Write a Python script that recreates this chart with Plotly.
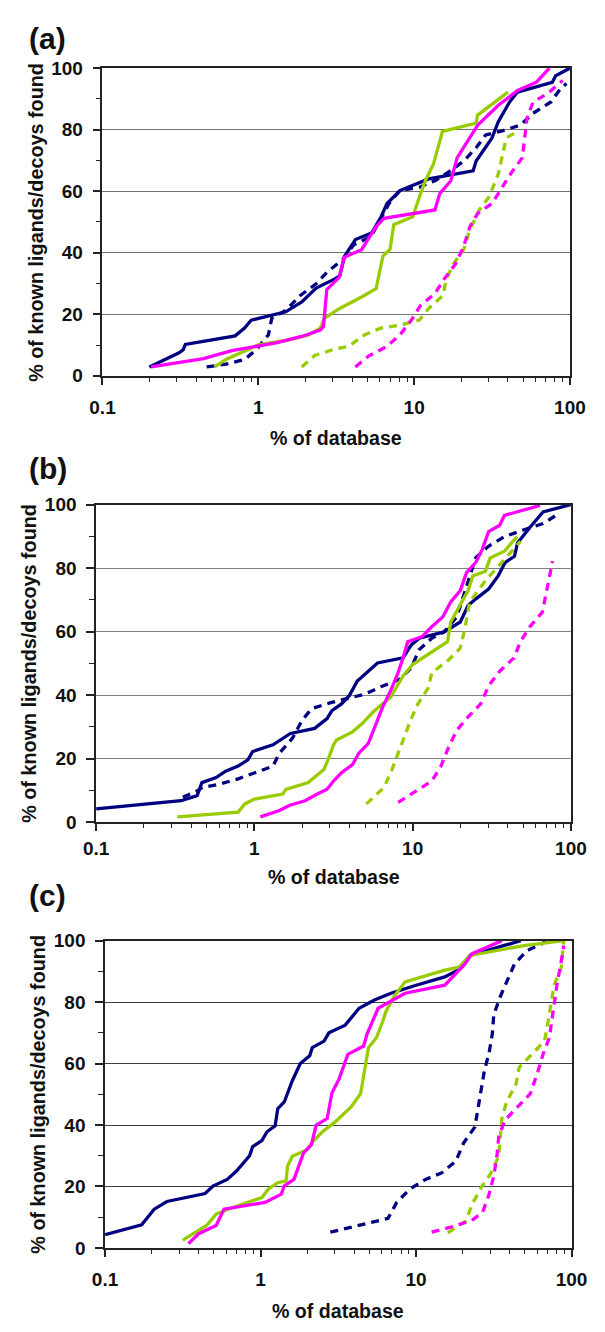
import plotly.graph_objects as go

W, H = 605, 1332

# ---------------- data (x = % of database, y = % found) ----------------
# Panel (a)
a_navy_x = [0.2, 0.31, 0.33, 0.34, 0.71, 0.816, 0.9, 1.19, 1.5, 1.9, 2.35, 3.1, 3.33, 3.58, 4.2, 5.33, 6.14, 6.7, 8.1, 12.4, 23.9, 25, 31.6, 34.7, 41, 46, 77, 81, 95, 100]
a_navy_y = [2.9, 7.5, 8.5, 10.2, 13, 15.5, 18.1, 19.7, 20.8, 24, 28.5, 31.5, 32.5, 38.9, 44.3, 46.4, 51.7, 56, 60.2, 64, 66.6, 69.8, 77.3, 82.6, 89, 92.2, 95.4, 97.5, 99.5, 100]
a_navyd_x = [0.466, 0.62, 0.816, 0.97, 1.16, 1.22, 1.5, 1.86, 2.35, 2.75, 3.5, 4.1, 5.3, 6.0, 6.9, 8.1, 10.8, 13.6, 16.5, 20.8, 25, 28.8, 36.7, 48.2, 58, 75.5, 87, 95]
a_navyd_y = [2.9, 3.8, 5.3, 8.5, 13.3, 18.7, 21.3, 26.1, 29.9, 33.6, 37.9, 42.6, 45.3, 50.1, 56, 60.2, 61.3, 63.4, 66.1, 69.8, 74.1, 78.3, 79.6, 81.5, 85.3, 89, 93.3, 95]
a_grn_x = [0.524, 0.62, 1.0, 1.57, 2.1, 2.5, 2.65, 3.33, 4.6, 5.7, 6.3, 7.0, 7.4, 9.8, 10.8, 11.8, 13.3, 15.2, 25, 25.5, 30, 40]
a_grn_y = [2.9, 5.3, 10.1, 11.7, 13.3, 15.5, 18.7, 21.9, 25.6, 28.3, 38.9, 41.1, 49.1, 51.7, 58.1, 63.4, 68.8, 79.4, 82.1, 84.7, 87.4, 92.2]
a_grnd_x = [1.9, 2.3, 3.0, 3.8, 4.8, 6.1, 8.1, 10.8, 12.4, 15.3, 16.1, 18.1, 20.8, 22.8, 26.2, 30.2, 34.7, 37.3, 39, 46]
a_grnd_y = [2.9, 6.6, 8.5, 9.6, 13.3, 15.5, 16.5, 18.1, 21.9, 26.1, 31.5, 36.8, 41.1, 47.5, 53.9, 58.1, 65.6, 73, 77.3, 79.4]
a_mag_x = [0.205, 0.445, 0.676, 1.0, 1.3, 1.9, 2.5, 2.62, 2.75, 3.3, 3.55, 4.6, 5.7, 6.4, 9.8, 13.6, 14.6, 17.2, 18.9, 25.6, 34.7, 46.1, 61, 73.8]
a_mag_y = [2.9, 5.6, 8.2, 9.6, 10.7, 12.8, 14.9, 16, 28, 32, 38.5, 41, 48.5, 51.2, 52.8, 53.9, 59.2, 63.4, 70.9, 81.5, 87.9, 92.7, 95.4, 100]
a_magd_x = [4.2, 5.1, 6.7, 8.1, 9.6, 11.0, 13.6, 15.6, 18.4, 20.8, 22.8, 25.6, 31.6, 36.7, 42.2, 49.5, 50.7, 53, 58, 72, 85, 90]
a_magd_y = [2.9, 6.4, 9.6, 13.3, 18.1, 22.9, 26.7, 31.5, 36.3, 42.1, 48.5, 52.8, 56, 61.3, 66.1, 70.9, 76.2, 83.7, 89, 91.7, 94.9, 96]

# Panel (b)
b_navy_x = [0.1, 0.344, 0.435, 0.466, 0.573, 0.658, 0.79, 0.91, 0.975, 1.31, 1.69, 2.4, 2.88, 3.09, 3.55, 3.98, 4.47, 5.25, 6.0, 8.7, 9.8, 11, 15.8, 20, 22.4, 25.1, 30.2, 34.7, 38.3, 44, 46, 55.5, 66.7, 100]
b_navy_y = [4.1, 6.7, 8.3, 12.4, 14, 16, 17.6, 19.6, 22.2, 24.3, 27.9, 29.5, 32.6, 35.1, 37.2, 39.8, 44.4, 47.5, 50.1, 51.7, 55.8, 57.9, 59.9, 63, 68.2, 70.3, 73.4, 77.5, 81.7, 83.7, 87.9, 93, 97.7, 100]
b_navyd_x = [0.353, 0.435, 0.47, 0.6, 0.79, 1.0, 1.31, 1.44, 1.74, 2.0, 2.3, 3.0, 5.0, 6.3, 8.3, 9.8, 11, 13.2, 15.8, 19, 21, 23, 25, 30, 38, 50, 66.7, 84]
b_navyd_y = [7.8, 9.8, 10.9, 11.9, 13.6, 15.5, 17.6, 21.7, 26.4, 32, 35.7, 37.5, 40.3, 42.6, 45, 48.6, 54.3, 57.9, 59.9, 64.6, 71.3, 77.5, 83.2, 86.8, 89.9, 92, 94, 97.2]
b_grn_x = [0.326, 0.79, 0.87, 1.0, 1.51, 1.58, 2.19, 2.75, 2.95, 3.16, 3.3, 4.17, 4.8, 5.75, 7.25, 8.7, 10, 13.2, 16.6, 17.4, 20, 22.4, 24, 28.8, 30.9, 38, 45.7]
b_grn_y = [1.6, 3.1, 5.7, 7.2, 8.8, 10.3, 12.4, 16.5, 20.2, 24.3, 25.8, 28.4, 31, 35.1, 39.3, 46, 49.6, 53.7, 56.8, 63, 68.2, 72.9, 77.5, 79, 83.2, 85.3, 89.9]
b_grnd_x = [5.1, 6.6, 7.4, 7.95, 8.7, 9.8, 10.8, 12.6, 13.2, 17, 20, 21.4, 22.9, 28.8, 48]
b_grnd_y = [5.7, 10.9, 16.5, 20.7, 25.8, 32.6, 37.2, 42.4, 47, 51.2, 54.8, 61, 69.3, 76, 88.4]
b_mag_x = [1.09, 1.44, 1.66, 2.09, 2.5, 2.88, 3.16, 3.55, 4.17, 4.57, 5.25, 5.75, 6.46, 7.25, 7.95, 8.7, 9.3, 11.5, 13.2, 15.5, 17.4, 20, 21.9, 25, 27.5, 30.2, 35.5, 38, 63.7]
b_mag_y = [1.6, 3.6, 5.2, 6.7, 8.8, 10.3, 12.9, 15.5, 18.1, 21.7, 24.8, 30, 36.2, 41.3, 46, 51.7, 56.8, 58.4, 61.5, 64.6, 69.3, 72.9, 78.6, 81.7, 85.8, 91.5, 93.5, 96.6, 99.7]
b_magd_x = [8.1, 10.5, 13.2, 15.1, 16.6, 19, 22.4, 26.9, 30.2, 35.5, 43.7, 47.9, 55, 66, 69.8, 76.6]
b_magd_y = [6.2, 9.8, 12.9, 17.6, 22.7, 28.9, 33.1, 37.2, 42.9, 47.5, 51.7, 56.8, 61.5, 66.1, 72.4, 82.2]

# Panel (c)
c_navy_x = [0.1, 0.172, 0.207, 0.25, 0.44, 0.494, 0.61, 0.70, 0.85, 0.89, 1.02, 1.1, 1.24, 1.29, 1.42, 1.6, 1.8, 2.07, 2.15, 2.56, 2.75, 3.5, 4.3, 5.4, 6.9, 10, 15.3, 19.3, 22.2, 30.9, 47.2]
c_navy_y = [4.3, 7.5, 12.6, 15.1, 17.7, 20.1, 22.3, 25, 30, 33, 34.9, 37.8, 39.7, 45.3, 47.5, 54.4, 60, 62.5, 65.2, 67.3, 70, 72.5, 78, 80.7, 82.9, 85.5, 88.2, 90.9, 95.2, 97.3, 100]
c_navyd_x = [2.81, 3.9, 4.9, 6.6, 7.5, 9.1, 11.5, 14.6, 18, 20.2, 23.9, 25, 26.2, 27.5, 29.5, 30.9, 31.6, 34.8, 43, 51.8, 68.7]
c_navyd_y = [5.1, 6.8, 8.1, 9.6, 14.8, 19.1, 22.3, 24.4, 28.2, 34.1, 39.4, 45.3, 51.2, 57.7, 63.6, 69.5, 75.9, 81.8, 92.5, 96.8, 99.7]
c_grn_x = [0.316, 0.45, 0.518, 0.67, 1.02, 1.12, 1.29, 1.46, 1.49, 1.6, 1.98, 2.17, 2.5, 3.02, 3.82, 4.4, 4.94, 5.56, 6.1, 6.4, 7.2, 8.5, 15.3, 18.9, 22.2, 49.4, 89]
c_grn_y = [2.5, 7.3, 11, 13.2, 16.4, 19.1, 21.2, 21.8, 26.6, 29.8, 31.9, 34.6, 37.8, 41, 45.9, 50.2, 65.2, 68.4, 73.7, 77, 81.8, 86.6, 90.4, 91.4, 95.2, 98.4, 100]
c_grnd_x = [16, 20.7, 23.3, 26.2, 30, 34, 35.6, 38.2, 44, 46, 56.9, 67, 70.3, 73.6, 77.2, 86, 89]
c_grnd_y = [4.9, 8.6, 14.8, 19.6, 24, 29.8, 42.1, 47.5, 53.4, 58.7, 63.6, 67.3, 73.2, 79.1, 85.5, 91.4, 100]
c_mag_x = [0.344, 0.4, 0.518, 0.582, 1.07, 1.36, 1.42, 1.64, 1.76, 1.89, 2.12, 2.28, 2.68, 2.88, 3.2, 3.64, 4.6, 4.83, 5.7, 6.9, 8.5, 15.3, 17.6, 20.7, 22.8, 35.6]
c_mag_y = [1.4, 4.6, 7.3, 12.6, 14.8, 17.5, 20.2, 22.3, 26.6, 30.9, 33.5, 40, 42.1, 50.5, 55, 63, 65.7, 69.5, 78, 80.2, 82.9, 85.5, 88.7, 92.5, 95.7, 100]
c_magd_x = [12.6, 16.8, 22.8, 26.8, 29.5, 31.6, 33.1, 34, 37.3, 45, 54.3, 61, 65.5, 72, 77.2, 81, 85, 89]
c_magd_y = [5.1, 6.8, 8.9, 11.6, 17.5, 23.4, 29.8, 36.2, 41.6, 45.9, 50.2, 57.7, 63, 68.4, 79.1, 86.6, 92, 98.4]

panel_labels = ["(a)", "(b)", "(c)"]
x_title = "% of database"
y_title = "% of known ligands/decoys found"
x_tickvals = [0.1, 1, 10, 100]
x_ticktext = ["0.1", "1", "10", "100"]
y_tickvals = [0, 20, 40, 60, 80, 100]

NAVY, MAG, GRN = "#000080", "#FF00FF", "#99CC00"
DASH = "8px,6px"
FONT = "Liberation Sans, Arial, sans-serif"
TXT = "#111111"

panels = [
    dict(series=[(a_navy_x, a_navy_y, NAVY, "solid"), (a_navyd_x, a_navyd_y, NAVY, DASH),
                 (a_grn_x, a_grn_y, GRN, "solid"), (a_grnd_x, a_grnd_y, GRN, DASH),
                 (a_mag_x, a_mag_y, MAG, "solid"), (a_magd_x, a_magd_y, MAG, DASH)],
         box=(94, 585, 59, 371.7), grid="#707070", lab_y=29, xt_y=435, yt_x=24, standoff=7),
    dict(series=[(b_navy_x, b_navy_y, NAVY, "solid"), (b_navyd_x, b_navyd_y, NAVY, DASH),
                 (b_grn_x, b_grn_y, GRN, "solid"), (b_grnd_x, b_grnd_y, GRN, DASH),
                 (b_mag_x, b_mag_y, MAG, "solid"), (b_magd_x, b_magd_y, MAG, DASH)],
         box=(87.3, 586, 502.5, 825), grid="#808080", lab_y=466, xt_y=881, yt_x=17.3, standoff=1),
    dict(series=[(c_navy_x, c_navy_y, NAVY, "solid"), (c_navyd_x, c_navyd_y, NAVY, DASH),
                 (c_grn_x, c_grn_y, GRN, "solid"), (c_grnd_x, c_grnd_y, GRN, DASH),
                 (c_mag_x, c_mag_y, MAG, "solid"), (c_magd_x, c_magd_y, MAG, DASH)],
         box=(96.7, 586.7, 945.6, 1257.7), grid="#404040", lab_y=900, xt_y=1321.7, yt_x=26.7, standoff=7),
]

minor_x = [v * m for m in (0.1, 1, 10) for v in range(2, 10)]


def px_x(v):
    return v / W


def px_y(v):
    return 1 - v / H


fig = go.Figure()
annotations = []
layout = {}
for i, p in enumerate(panels, start=1):
    sfx = "" if i == 1 else str(i)
    xa, ya = "x" + sfx, "y" + sfx
    for xs, ys, col, dash in p["series"]:
        fig.add_trace(go.Scatter(x=xs, y=ys, mode="lines", xaxis=xa, yaxis=ya,
                                 line=dict(color=col, width=3.3, dash=dash),
                                 showlegend=False, hoverinfo="skip"))
    x0, x1, y0, y1 = p["box"]
    layout["xaxis" + sfx] = dict(
        type="log", range=[-1, 2], domain=[px_x(x0), px_x(x1)], anchor=ya,
        tickmode="array", tickvals=x_tickvals, ticktext=x_ticktext,
        ticks="outside", ticklen=7, tickwidth=1.5, tickcolor="#222",
        showline=True, linecolor="#222", linewidth=1.5, mirror=True,
        showgrid=False, zeroline=False, ticklabelstandoff=p["standoff"],
        tickfont=dict(family=FONT, size=19, color=TXT, weight="bold"),
        minor=dict(tickmode="array", tickvals=minor_x, ticks="outside", ticklen=4,
                   tickwidth=1.2, tickcolor="#222", showgrid=False),
    )
    layout["yaxis" + sfx] = dict(
        range=[0, 100], domain=[px_y(y1), px_y(y0)], anchor=xa,
        tickmode="array", tickvals=y_tickvals,
        ticks="outside", ticklen=8, tickwidth=1.5, tickcolor="#222",
        showline=True, linecolor="#222", linewidth=1.5, mirror=True,
        showgrid=True, gridcolor=p["grid"], gridwidth=1.2, zeroline=False,
        ticklabelstandoff=6,
        tickfont=dict(family=FONT, size=19, color=TXT, weight="bold"),
        minor=dict(dtick=10, ticks="outside", ticklen=5, tickwidth=1.2,
                   tickcolor="#222", showgrid=False),
    )
    annotations.append(dict(text=panel_labels[i - 1], xref="paper", yref="paper",
                            x=px_x(15), y=px_y(p["lab_y"]), xanchor="left", yanchor="middle",
                            showarrow=False, font=dict(family=FONT, size=30, color=TXT, weight="bold")))
    annotations.append(dict(text=x_title, xref="paper", yref="paper",
                            x=px_x((x0 + x1) / 2), y=px_y(p["xt_y"]), xanchor="center", yanchor="middle",
                            showarrow=False, font=dict(family=FONT, size=19.6, color=TXT, weight="bold")))
    annotations.append(dict(text=y_title, xref="paper", yref="paper", textangle=-90,
                            x=px_x(p["yt_x"]), y=px_y((y0 + y1) / 2), xanchor="center", yanchor="middle",
                            showarrow=False, font=dict(family=FONT, size=19.8, color=TXT, weight="bold")))

fig.update_layout(
    width=W, height=H, margin=dict(l=0, r=0, t=0, b=0),
    paper_bgcolor="white", plot_bgcolor="white",
    annotations=annotations, showlegend=False, **layout,
)
# remove the browser's default body margin so the figure starts at the page corner
fig.write_html("out.html", config={"displayModeBar": False},
               post_script="document.body.style.margin='0px';")
